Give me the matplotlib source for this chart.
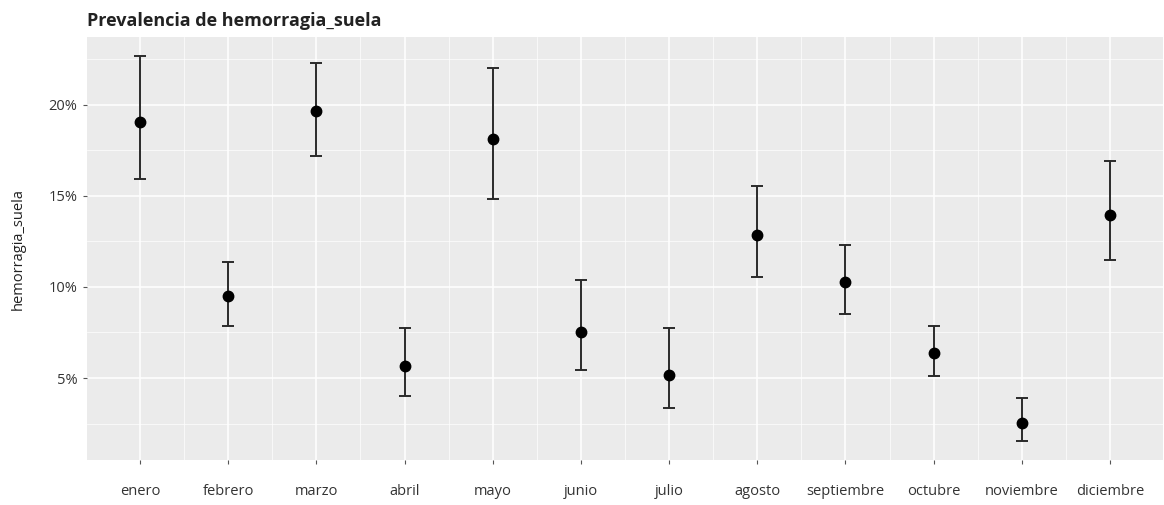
import matplotlib.pyplot as plt
import numpy as np
from matplotlib.ticker import FuncFormatter, MultipleLocator

# prevalence (%) and confidence interval
months = ["enero", "febrero", "marzo", "abril", "mayo", "junio", "julio",
          "agosto", "septiembre", "octubre", "noviembre", "diciembre"]
prev = [19.05, 9.51, 19.63, 5.66, 18.13, 7.54, 5.16, 12.87, 10.29, 6.37, 2.51, 13.96]
lower = [15.93, 7.86, 17.18, 4.01, 14.80, 5.44, 3.34, 10.53, 8.52, 5.13, 1.56, 11.45]
upper = [22.65, 11.37, 22.29, 7.75, 21.98, 10.38, 7.73, 15.51, 12.27, 7.88, 3.90, 16.90]

plt.rcParams['font.family'] = ['Open Sans', 'DejaVu Sans']

fig = plt.figure(figsize=(11.64, 5.05), dpi=100)
ax = fig.add_axes([87 / 1164, 45 / 505, 1076 / 1164, 423 / 505])

x = np.arange(1, len(months) + 1)
prev = np.array(prev)
yerr = [prev - np.array(lower), np.array(upper) - prev]

ax.errorbar(x, prev, yerr=yerr, fmt='o', color='black', ecolor='#2a2a2a',
            elinewidth=1.4, capsize=4, capthick=1.4, markersize=7.5, zorder=3)

ax.set_facecolor('#EBEBEB')
for s in ax.spines.values():
    s.set_visible(False)

ax.set_xlim(0.4, len(months) + 0.6)
lo = min(lower)
hi = max(upper)
pad = (hi - lo) * 0.05
ax.set_ylim(lo - pad, hi + pad)

ax.set_xticks(x)
ax.set_xticklabels(months)
ax.set_xticks(x[:-1] + 0.5, minor=True)
ax.yaxis.set_major_locator(MultipleLocator(5))
ax.yaxis.set_minor_locator(MultipleLocator(2.5))
ax.yaxis.set_major_formatter(FuncFormatter(lambda v, p: f"{v:.0f}%"))

ax.grid(which='major', color='white', linewidth=1.1, zorder=0)
ax.grid(which='minor', color='white', linewidth=0.5, zorder=0)
ax.set_axisbelow(True)

ax.tick_params(which='major', length=3, color='#555555', labelsize=10.5,
               labelcolor='#333333', pad=4)
ax.tick_params(axis='x', pad=14)
ax.tick_params(which='minor', length=0)

ax.set_ylabel("hemorragia_suela", fontsize=10.5, color='#222222', labelpad=16)
ax.set_title("Prevalencia de hemorragia_suela", loc='left', fontsize=13,
             fontweight='bold', color='#222222', pad=8, x=0.0)

fig.savefig("out.png", dpi=100)
